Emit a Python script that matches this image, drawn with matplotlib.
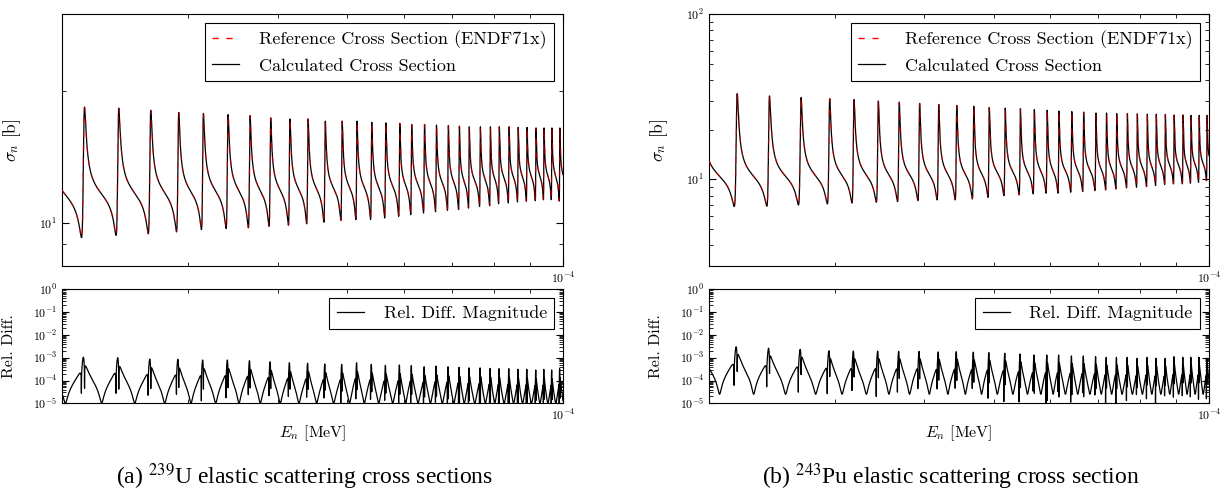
import numpy as np
import matplotlib
matplotlib.use("Agg")
import matplotlib.pyplot as plt
from matplotlib.ticker import LogLocator, NullFormatter

plt.rcParams["font.family"] = "serif"
plt.rcParams["font.serif"] = ["cmr10"]
plt.rcParams["mathtext.fontset"] = "cm"
plt.rcParams["axes.formatter.use_mathtext"] = True

# values
# resonance peak energies [eV], peak and dip cross section [b], peak rel. diff.
u239_peak_e = [21.5, 24.0, 26.6, 29.1, 31.5, 34.1, 36.6, 39.1, 41.6, 44.1, 46.6,
               49.2, 51.6, 54.1, 56.6, 59.2, 61.5, 64.1, 66.6, 69.2, 71.7, 74.0,
               76.7, 79.2, 81.5, 84.1, 86.6, 89.1, 91.7, 94.1, 96.5, 99.0]
u239_peak_xs = [18.4, 18.3, 18.1, 17.9, 17.8, 17.7, 17.6, 17.4, 17.3, 17.3, 17.1,
                17.1, 17.1, 17.0, 16.95, 16.9, 16.8, 16.8, 16.75, 16.7, 16.65, 16.6,
                16.6, 16.6, 16.6, 16.6, 16.55, 16.55, 16.5, 16.5, 16.5, 16.5]
u239_dip_xs = [9.28, 9.40, 9.48, 9.58, 9.69, 9.74, 9.78, 9.86, 9.91, 9.99, 10.07,
               10.17, 10.21, 10.21, 10.30, 10.39, 10.48, 10.57, 10.64, 10.72, 10.76,
               10.85, 10.94, 10.98, 11.10, 11.14, 11.20, 11.24, 11.27, 11.33, 11.33, 11.24]
u239_rel_peak = [10.5e-4, 10.0e-4, 8.7e-4, 8.5e-4, 7.9e-4, 7.9e-4, 7.4e-4, 6.6e-4,
                 6.0e-4, 5.7e-4, 5.3e-4, 5.1e-4, 6.0e-4, 5.1e-4, 4.6e-4, 4.8e-4,
                 4.5e-4, 4.0e-4, 4.3e-4, 4.0e-4, 3.8e-4, 3.6e-4, 3.6e-4, 3.4e-4,
                 3.3e-4, 3.3e-4, 3.1e-4, 3.1e-4, 2.9e-4, 3.1e-4, 2.9e-4, 3.3e-4]

pu243_peak_e = [21.9, 24.3, 26.9, 29.5, 31.9, 34.5, 36.9, 39.4, 41.9, 44.4, 46.9,
                49.3, 51.9, 54.5, 57.0, 59.4, 61.7, 64.3, 66.8, 69.5, 71.9, 74.3,
                76.9, 79.4, 82.0, 84.4, 86.9, 89.4, 92.0, 94.4, 96.9, 99.4]
pu243_peak_xs = [33.0, 32.0, 31.3, 30.8, 30.4, 29.8, 29.3, 28.8, 28.4, 28.0, 27.7,
                 27.2, 27.0, 26.8, 26.4, 26.2, 25.9, 25.7, 25.5, 25.2, 25.2, 25.0,
                 25.0, 24.9, 24.8, 24.8, 24.7, 24.5, 24.5, 24.4, 24.4, 24.4]
pu243_dip_xs = [6.86, 6.89, 7.02, 7.12, 7.22, 7.29, 7.36, 7.46, 7.53, 7.53, 7.64,
                7.81, 8.00, 8.08, 8.19, 8.26, 8.26, 8.38, 8.46, 8.58, 8.66, 8.78,
                8.91, 8.98, 9.07, 9.20, 9.33, 9.42, 9.42, 9.50, 9.63, 9.86]
pu243_rel_peak = [3.0e-3, 2.6e-3, 2.3e-3, 2.0e-3, 1.95e-3, 1.95e-3, 1.9e-3, 1.9e-3,
                  1.8e-3, 1.85e-3, 1.75e-3, 1.67e-3, 1.56e-3, 1.45e-3, 1.31e-3,
                  1.31e-3, 1.31e-3, 1.19e-3, 1.19e-3, 1.11e-3, 1.04e-3, 1.04e-3,
                  1.04e-3, 0.94e-3, 1.04e-3, 0.94e-3, 0.94e-3, 1.11e-3, 1.04e-3,
                  1.04e-3, 1.04e-3, 0.94e-3]


def shape(u, a, t):
    # resonance + potential scattering interference, one resonance per unit of u
    w = 2 * np.pi * u
    return (a * np.sinh(t) + np.sin(w)) / (np.cosh(t) - np.cos(w))


def resonances(e, peak_e, peak_xs, dip_xs, rel_peak, a, t, rel_min, p=0.55):
    peak_e = np.asarray(peak_e, dtype=float)
    n = len(peak_e)
    u = np.interp(e, peak_e, np.arange(n))
    left = e < peak_e[0]
    right = e > peak_e[-1]
    u[left] = (e[left] - peak_e[0]) / (peak_e[1] - peak_e[0])
    u[right] = n - 1 + (e[right] - peak_e[-1]) / (peak_e[-1] - peak_e[-2])

    up = np.linspace(-0.5, 0.5, 4001)
    gp = shape(up, a, t)
    shift = up[np.argmax(gp)]
    gmin, gmax = gp.min(), gp.max()

    g = (shape(u + shift, a, t) - gmin) / (gmax - gmin)
    lhi = np.interp(e, peak_e, np.log10(peak_xs))
    llo = np.interp(e, peak_e, np.log10(dip_xs))
    xs = 10 ** (llo + (lhi - llo) * g)

    # relative difference follows the local slope of the curve
    gn = (shape(up + shift, a, t) - gmin) / (gmax - gmin)
    sp = np.gradient(gn, up)
    off = sp[np.abs(up) > 0.25].max()
    big = np.abs(sp - off).max()
    peak = 10 ** np.interp(e, peak_e, np.log10(rel_peak))
    delta = big * (rel_min / peak) ** (1 / p)
    slope = np.gradient(g, u)
    rel = peak * (np.abs(slope - off - delta) / big) ** p
    return xs, np.maximum(rel, 1e-9)


e = np.linspace(20.0, 100.0, 40000)
e_mev = e * 1e-6

u239_ref, u239_rel = resonances(e, u239_peak_e, u239_peak_xs, u239_dip_xs,
                                u239_rel_peak, 0.35, 0.25, 1.0e-5)
pu243_ref, pu243_rel = resonances(e, pu243_peak_e, pu243_peak_xs, pu243_dip_xs,
                                  pu243_rel_peak, 0.5, 0.25, 2.5e-5)

fig = plt.figure(figsize=(12.2, 4.95), dpi=100)

panels = [
    (62, 501, u239_ref, u239_rel, (8, 30),
     r"(a) $^{239}$U elastic scattering cross sections"),
    (709, 500, pu243_ref, pu243_rel, (3, 100),
     r"(b) $^{243}$Pu elastic scattering cross section"),
]

W, H = 1220.0, 495.0


def style(ax):
    ax.set_xscale("log")
    ax.set_yscale("log")
    ax.set_xlim(2e-5, 1e-4)
    ax.xaxis.set_major_locator(LogLocator(base=10, numticks=12))
    ax.xaxis.set_minor_locator(LogLocator(base=10, subs=np.arange(2, 10), numticks=12))
    ax.xaxis.set_minor_formatter(NullFormatter())
    ax.yaxis.set_major_locator(LogLocator(base=10, numticks=12))
    ax.yaxis.set_minor_locator(LogLocator(base=10, subs=np.arange(2, 10), numticks=12))
    ax.yaxis.set_minor_formatter(NullFormatter())
    ax.tick_params(which="both", direction="in", top=True, right=True, labelsize=8.5)
    ax.tick_params(which="major", length=5)
    ax.tick_params(which="minor", length=3)


for x0, w, ref, rel, ylim, caption in panels:
    ax = fig.add_axes([x0 / W, 1 - 266 / H, w / W, 252 / H])
    calc = ref * (1 + rel)
    ax.plot(e_mev, ref, color="red", ls=(0, (4.5, 5.5)), lw=1.0, alpha=0.5, zorder=3,
            label="Reference Cross Section (ENDF71x)")
    ax.plot(e_mev, calc, color="k", lw=0.9, zorder=2, label="Calculated Cross Section")
    style(ax)
    ax.set_ylim(*ylim)
    ax.set_ylabel(r"$\sigma_n$ [b]", fontsize=12.5)
    ax.yaxis.set_label_coords(-0.078, 0.5)
    leg = ax.legend(loc="upper right", fontsize=13, handlelength=1.5, handletextpad=1.1,
                    fancybox=False, edgecolor="k", framealpha=1, borderaxespad=0.5)
    leg.get_frame().set_linewidth(0.8)
    for h in leg.get_lines():
        h.set_alpha(1)

    bx = fig.add_axes([x0 / W, 1 - 403.3 / H, w / W, 114 / H])
    bx.plot(e_mev, rel, color="k", lw=0.9, label="Rel. Diff. Magnitude")
    style(bx)
    bx.set_ylim(1e-5, 1)
    bx.set_ylabel("Rel. Diff.", fontsize=11.5)
    bx.yaxis.set_label_coords(-0.092, 0.5)
    bx.set_xlabel(r"$E_n$ [MeV]", fontsize=11.5)
    bx.xaxis.set_label_coords(0.5, -0.18)
    leg = bx.legend(loc="upper right", fontsize=13, handlelength=1.5, handletextpad=1.1,
                    fancybox=False, edgecolor="k", framealpha=1, borderaxespad=0.5)
    leg.get_frame().set_linewidth(0.8)

    fig.text((x0 + w / 2 - 8) / W, 1 - 477 / H, caption, ha="center", va="center",
             fontsize=17, fontfamily="Liberation Serif", math_fontfamily="stix")

fig.savefig("out.png", dpi=100)
